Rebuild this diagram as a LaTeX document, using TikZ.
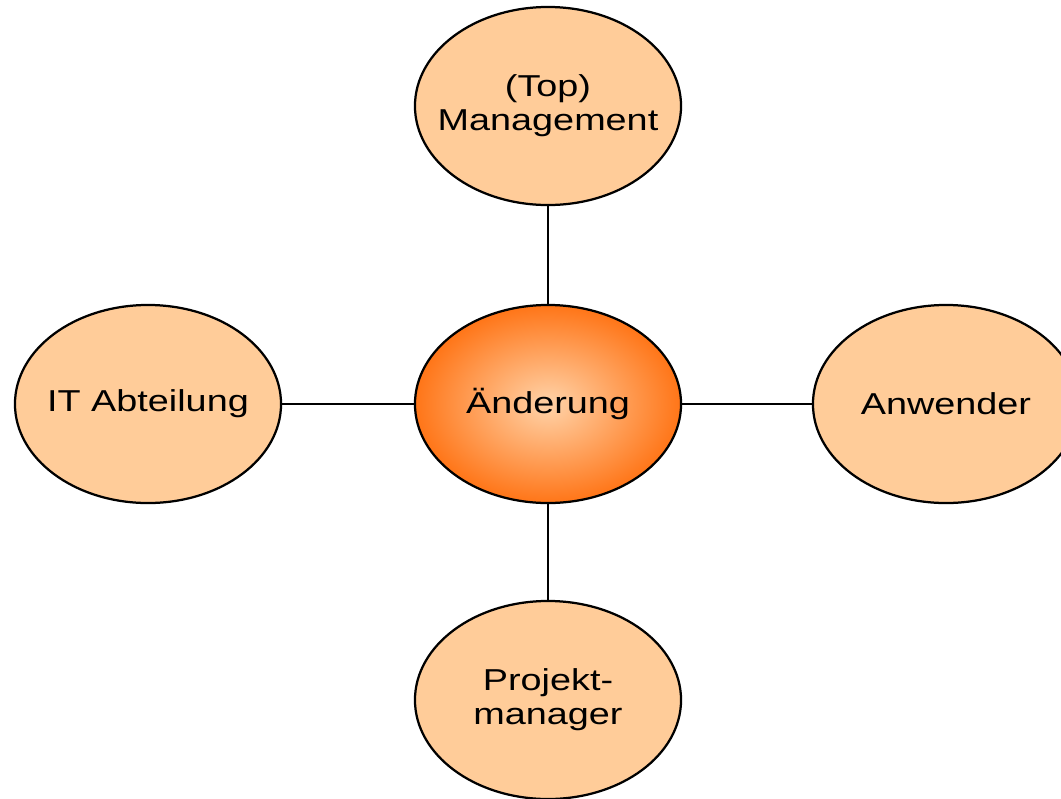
\documentclass[tikz,border=0pt]{standalone}
\usepackage{fontspec}
\setmainfont[FakeStretch=1.25]{Liberation Sans}
\usepackage{xcolor}
\usetikzlibrary{shapes.geometric}
\definecolor{peach}{RGB}{255,204,153}
\definecolor{lightpeach}{RGB}{255,204,158}
\definecolor{deeporange}{RGB}{255,102,0}
\pgfdeclareradialshading{glow}{\pgfpoint{0bp}{0bp}}{color(0bp)=(lightpeach); color(2bp)=(lightpeach); color(29bp)=(deeporange); color(50bp)=(deeporange)}

\begin{document}
\begin{tikzpicture}[x=0.025cm,y=-0.025cm,
  person/.style={ellipse, draw, line width=1.6pt, fill=peach,
    minimum width=6.65cm, minimum height=4.95cm,
    inner xsep=-1cm, inner ysep=-0.6cm,
    align=center, font=\fontsize{21.5}{24}\selectfont},
  change/.style={person, shading=glow},
  link/.style={line width=1.6pt}]
\useasboundingbox (0,0) rectangle (1061,798);

% Stakeholders around the change
\node[person] (mgmt) at (548,106) {(Top)\\Management};
\node[change] (chg) at (548,404) {Änderung};
\node[person] (itdept) at (148,404) {IT Abteilung};
\node[person] (users) at (946,404) {Anwender};
\node[person] (pm) at (548,700) {Projekt-\\manager};

% Connections
\draw[link] (mgmt) -- (chg);
\draw[link] (itdept) -- (chg);
\draw[link] (chg) -- (users);
\draw[link] (chg) -- (pm);
\end{tikzpicture}
\end{document}
